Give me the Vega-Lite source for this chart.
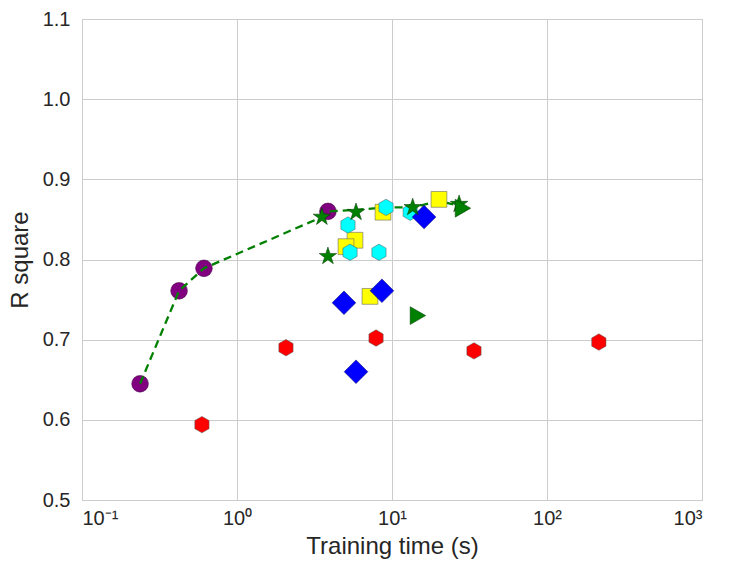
{
  "$schema": "https://vega.github.io/schema/vega-lite/v6.json",
  "autosize": {"type": "none"},
  "padding": {"left": 82, "top": 19, "right": 27, "bottom": 74},
  "width": 620,
  "height": 481,
  "datasets": {
    "points": [
      {"model": "circle", "time": 0.237, "r2": 0.645},
      {"model": "circle", "time": 0.423, "r2": 0.761},
      {"model": "circle", "time": 0.612, "r2": 0.789},
      {"model": "circle", "time": 3.86, "r2": 0.860},
      {"model": "redhex", "time": 0.594, "r2": 0.594},
      {"model": "redhex", "time": 2.07, "r2": 0.690},
      {"model": "redhex", "time": 7.89, "r2": 0.702},
      {"model": "redhex", "time": 33.8, "r2": 0.686},
      {"model": "redhex", "time": 216, "r2": 0.697},
      {"model": "square", "time": 8.75, "r2": 0.859},
      {"model": "square", "time": 20.1, "r2": 0.875},
      {"model": "square", "time": 5.77, "r2": 0.824},
      {"model": "square", "time": 5.05, "r2": 0.816},
      {"model": "square", "time": 7.21, "r2": 0.754},
      {"model": "cyanhex", "time": 9.15, "r2": 0.865},
      {"model": "cyanhex", "time": 13.1, "r2": 0.859},
      {"model": "cyanhex", "time": 5.2, "r2": 0.843},
      {"model": "cyanhex", "time": 5.36, "r2": 0.809},
      {"model": "cyanhex", "time": 8.24, "r2": 0.809},
      {"model": "diamond", "time": 16.1, "r2": 0.853},
      {"model": "diamond", "time": 4.9, "r2": 0.746},
      {"model": "diamond", "time": 8.61, "r2": 0.761},
      {"model": "diamond", "time": 5.86, "r2": 0.660},
      {"model": "star", "time": 3.53, "r2": 0.853},
      {"model": "star", "time": 3.86, "r2": 0.804},
      {"model": "star", "time": 5.86, "r2": 0.859},
      {"model": "star", "time": 13.6, "r2": 0.865},
      {"model": "star", "time": 27.1, "r2": 0.869},
      {"model": "triangle", "time": 28.7, "r2": 0.864},
      {"model": "triangle", "time": 14.7, "r2": 0.730}
    ],
    "front": [
      {"time": 0.237, "r2": 0.645},
      {"time": 0.423, "r2": 0.761},
      {"time": 0.612, "r2": 0.789},
      {"time": 3.53, "r2": 0.853},
      {"time": 3.86, "r2": 0.860},
      {"time": 5.86, "r2": 0.862},
      {"time": 9.15, "r2": 0.865},
      {"time": 13.6, "r2": 0.865},
      {"time": 20.1, "r2": 0.873},
      {"time": 28.7, "r2": 0.866}
    ]
  },
  "encoding": {
    "x": {
      "field": "time",
      "type": "quantitative",
      "title": "Training time (s)",
      "scale": {"type": "log", "domain": [0.1, 1000], "nice": false},
      "axis": {
        "values": [0.1, 1, 10, 100, 1000],
        "labelExpr": "datum.value < 0.5 ? '10⁻¹' : datum.value < 5 ? '10⁰' : datum.value < 50 ? '10¹' : datum.value < 500 ? '10²' : '10³'",
        "labelPadding": 8,
        "titlePadding": 6
      }
    },
    "y": {
      "field": "r2",
      "type": "quantitative",
      "title": "R square",
      "scale": {"domain": [0.5, 1.1], "nice": false, "zero": false},
      "axis": {
        "values": [0.5, 0.6, 0.7, 0.8, 0.9, 1.0, 1.1],
        "format": ".1f",
        "labelPadding": 12,
        "titlePadding": 10
      }
    }
  },
  "layer": [
    {
      "data": {"name": "points"},
      "transform": [{"filter": "datum.model == 'circle'"}],
      "mark": {"type": "point", "shape": "circle", "filled": true, "color": "#800080", "size": 280, "stroke": "#3a003a", "strokeWidth": 0.5, "opacity": 1}
    },
    {
      "data": {"name": "front"},
      "mark": {"type": "line", "color": "#008000", "strokeWidth": 2.3, "strokeDash": [8, 5]}
    },
    {
      "data": {"name": "points"},
      "transform": [{"filter": "datum.model == 'redhex'"}],
      "mark": {"type": "point", "shape": "M0,-1L0.866,-0.5L0.866,0.5L0,1L-0.866,0.5L-0.866,-0.5Z", "filled": true, "color": "#ff0000", "size": 270, "stroke": "#555555", "strokeWidth": 0.5, "opacity": 1}
    },
    {
      "data": {"name": "points"},
      "transform": [{"filter": "datum.model == 'square'"}],
      "mark": {"type": "point", "shape": "square", "filled": true, "color": "#ffff00", "size": 250, "stroke": "#666666", "strokeWidth": 0.6, "opacity": 1}
    },
    {
      "data": {"name": "points"},
      "transform": [{"filter": "datum.model == 'cyanhex'"}],
      "mark": {"type": "point", "shape": "M0,-1L0.866,-0.5L0.866,0.5L0,1L-0.866,0.5L-0.866,-0.5Z", "filled": true, "color": "#00ffff", "size": 270, "stroke": "#555555", "strokeWidth": 0.5, "opacity": 1}
    },
    {
      "data": {"name": "points"},
      "transform": [{"filter": "datum.model == 'diamond'"}],
      "mark": {"type": "point", "shape": "diamond", "filled": true, "color": "#0000ff", "size": 560, "stroke": "#000066", "strokeWidth": 0.5, "opacity": 1}
    },
    {
      "data": {"name": "points"},
      "transform": [{"filter": "datum.model == 'star'"}],
      "mark": {"type": "point", "shape": "M0,-1L0.225,-0.309L0.951,-0.309L0.363,0.118L0.588,0.809L0,0.382L-0.588,0.809L-0.363,0.118L-0.951,-0.309L-0.225,-0.309Z", "filled": true, "color": "#008000", "size": 340, "stroke": "#003300", "strokeWidth": 0.5, "opacity": 1}
    },
    {
      "data": {"name": "points"},
      "transform": [{"filter": "datum.model == 'triangle'"}],
      "mark": {"type": "point", "shape": "triangle-right", "filled": true, "color": "#008000", "size": 320, "stroke": "#003300", "strokeWidth": 0.5, "opacity": 1}
    }
  ],
  "config": {
    "font": "Liberation Sans",
    "view": {"stroke": "#cccccc", "strokeWidth": 1},
    "axis": {
      "grid": true,
      "gridColor": "#cccccc",
      "gridWidth": 1,
      "domain": false,
      "ticks": false,
      "labelFont": "Liberation Sans",
      "labelFontSize": 20,
      "labelColor": "#262626",
      "titleFont": "Liberation Sans",
      "titleFontSize": 24,
      "titleFontWeight": "normal",
      "titleColor": "#262626"
    }
  }
}
